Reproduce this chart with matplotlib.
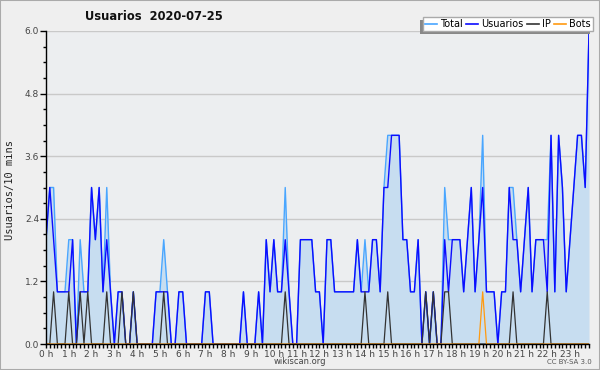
import matplotlib
matplotlib.use("Agg")
import matplotlib.pyplot as plt
from matplotlib.patches import Rectangle
from matplotlib.lines import Line2D
from matplotlib.ticker import MultipleLocator
import numpy as np

title = "Usuarios  2020-07-25"
ylabel = "Usuarios/10 mins"
hour_labels = [f"{h} h" for h in range(24)]

# one value per 10 minutes, each row covers 4 hours
usuarios = (
    [2, 3, 2, 1, 1, 1, 1, 2, 0, 1, 1, 1, 3, 2, 3, 1, 2, 1, 0, 1, 1, 0, 0, 1]
    + [0, 0, 0, 0, 0, 1, 1, 1, 1, 0, 0, 1, 1, 0, 0, 0, 0, 0, 1, 1, 0, 0, 0, 0]
    + [0, 0, 0, 0, 1, 0, 0, 0, 1, 0, 2, 1, 2, 1, 1, 2, 1, 0, 0, 2, 2, 2, 2, 1]
    + [1, 0, 2, 2, 1, 1, 1, 1, 1, 1, 2, 1, 1, 1, 2, 2, 1, 3, 3, 4, 4, 4, 2, 2]
    + [1, 1, 2, 0, 1, 0, 1, 0, 0, 2, 1, 2, 2, 2, 1, 2, 3, 1, 2, 3, 1, 1, 1, 0]
    + [1, 1, 3, 2, 2, 1, 2, 3, 1, 2, 2, 2, 1, 4, 1, 4, 3, 1, 2, 3, 4, 4, 3, 6]
)
total = (
    [2, 3, 3, 1, 1, 1, 2, 2, 0, 2, 1, 1, 3, 2, 3, 1, 3, 1, 0, 1, 1, 0, 0, 1]
    + [0, 0, 0, 0, 0, 1, 1, 2, 1, 0, 0, 1, 1, 0, 0, 0, 0, 0, 1, 1, 0, 0, 0, 0]
    + [0, 0, 0, 0, 1, 0, 0, 0, 1, 0, 2, 1, 2, 1, 1, 3, 1, 0, 0, 2, 2, 2, 2, 1]
    + [1, 0, 2, 2, 1, 1, 1, 1, 1, 1, 2, 1, 2, 1, 2, 2, 1, 3, 4, 4, 4, 4, 2, 2]
    + [1, 1, 2, 0, 1, 0, 1, 0, 0, 3, 2, 2, 2, 2, 1, 2, 3, 1, 2, 4, 1, 1, 1, 0]
    + [1, 1, 3, 3, 2, 1, 2, 3, 1, 2, 2, 2, 2, 4, 1, 4, 3, 1, 2, 3, 4, 4, 3, 6]
)
ip = (
    [0, 0, 1, 0, 0, 0, 1, 0, 0, 1, 0, 1, 0, 0, 0, 0, 1, 0, 0, 0, 1, 0, 0, 1]
    + [0, 0, 0, 0, 0, 0, 0, 1, 0, 0, 0, 0, 0, 0, 0, 0, 0, 0, 0, 0, 0, 0, 0, 0]
    + [0, 0, 0, 0, 0, 0, 0, 0, 0, 0, 0, 0, 0, 0, 0, 1, 0, 0, 0, 0, 0, 0, 0, 0]
    + [0, 0, 0, 0, 0, 0, 0, 0, 0, 0, 0, 0, 1, 0, 0, 0, 0, 0, 1, 0, 0, 0, 0, 0]
    + [0, 0, 0, 0, 1, 0, 1, 0, 0, 1, 1, 0, 0, 0, 0, 0, 0, 0, 0, 0, 0, 0, 0, 0]
    + [0, 0, 0, 1, 0, 0, 0, 0, 0, 0, 0, 0, 1, 0, 0, 0, 0, 0, 0, 0, 0, 0, 0, 0]
)
bots = (
    [0] * 24 + [0] * 24 + [0] * 24 + [0] * 24
    + [0, 0, 0, 0, 0, 0, 0, 0, 0, 0, 0, 0, 0, 0, 0, 0, 0, 0, 0, 1, 0, 0, 0, 0]
    + [0] * 24
)

colors = {'Total': '#49a6ff', 'Usuarios': '#0c0cff', 'IP': '#333333', 'Bots': '#ff9a10'}
fill_color = '#c7ddf0'
bg = '#efefef'

x = np.arange(len(usuarios))

fig = plt.figure(figsize=(6, 3.7), dpi=100, facecolor=bg)
ax = fig.add_axes([46 / 600, 1 - 344 / 370, 543 / 600, 313 / 370])
ax.set_facecolor('#eceef0')

ax.fill_between(x, total, 0, color=fill_color, lw=0, zorder=1)
ax.plot(x, total, color=colors['Total'], lw=1.0, zorder=2)
ax.plot(x, usuarios, color=colors['Usuarios'], lw=1.0, zorder=2.1)
ax.plot(x, ip, color=colors['IP'], lw=0.9, zorder=2.2)
ax.plot(x, bots, color=colors['Bots'], lw=0.9, zorder=2.3)

ax.set_xlim(0, len(x) - 1)
ax.set_ylim(0, 6)
ax.set_yticks(np.arange(0, 6.01, 1.2))
ax.set_yticklabels([f"{v:.1f}" for v in np.arange(0, 6.01, 1.2)])
ax.yaxis.set_minor_locator(MultipleLocator(0.3))
ax.set_xticks(np.arange(0, 144, 6))
ax.set_xticklabels(hour_labels)
ax.xaxis.set_minor_locator(MultipleLocator(1))
ax.grid(axis='y', color='#c9c9c9', lw=1.0, zorder=0)
ax.set_axisbelow(True)

ax.tick_params(axis='both', which='major', labelsize=6.5, colors='black',
               labelcolor='#444444', direction='out', width=1)
ax.tick_params(axis='y', which='major', length=4, pad=1)
ax.tick_params(axis='y', which='minor', length=2.5, width=1)
ax.tick_params(axis='x', which='major', length=3, pad=1)
ax.tick_params(axis='x', which='minor', length=3, width=1)
for s in ['top', 'right']:
    ax.spines[s].set_visible(False)
for s in ['left', 'bottom']:
    ax.spines[s].set_linewidth(1.0)
    ax.spines[s].set_zorder(5)

fig.text(85 / 600, 1 - 16 / 370, title, ha='left', va='center',
         fontsize=8.3, fontweight='bold', color='#111111')
fig.text(10 / 600, 1 - 190 / 370, ylabel, rotation=90, ha='center', va='center',
         fontsize=7.5, family='DejaVu Sans Mono', color='#222222')
fig.text(300 / 600, 1 - 362 / 370, "wikiscan.org", ha='center', va='center',
         fontsize=6, color='#444444')
fig.text(592 / 600, 1 - 362 / 370, "CC BY-SA 3.0", ha='right', va='center',
         fontsize=5, color='#555555')

handles = [Line2D([], [], color=colors[k], lw=1.2) for k in colors]
leg = fig.legend(handles, list(colors.keys()), loc='upper right',
                 bbox_to_anchor=(593 / 600, 1 - 17 / 370), ncol=4, fontsize=7,
                 frameon=True, fancybox=False, handlelength=1.2, handletextpad=0.35,
                 columnspacing=0.35, borderpad=0.2, borderaxespad=0)
leg.get_frame().set_edgecolor('#aaaaaa')
leg.get_frame().set_facecolor('white')
leg.get_frame().set_alpha(1)
leg.set_zorder(10)

# offset shadow behind the legend (down-left)
fig.canvas.draw()
bb = leg.get_window_extent()
W, H = fig.bbox.width, fig.bbox.height
fig.patches.append(Rectangle(((bb.x0 - 3) / W, (bb.y0 - 3) / H), bb.width / W, bb.height / H,
                             transform=fig.transFigure, facecolor='#888888',
                             edgecolor='none', zorder=9))
# thin frame around the whole image
fig.patches.append(Rectangle((0, 0), 1, 1, transform=fig.transFigure, fill=False,
                             edgecolor='#aaaaaa', lw=1.5, zorder=11))

fig.savefig("out.png", dpi=100, facecolor=bg)
